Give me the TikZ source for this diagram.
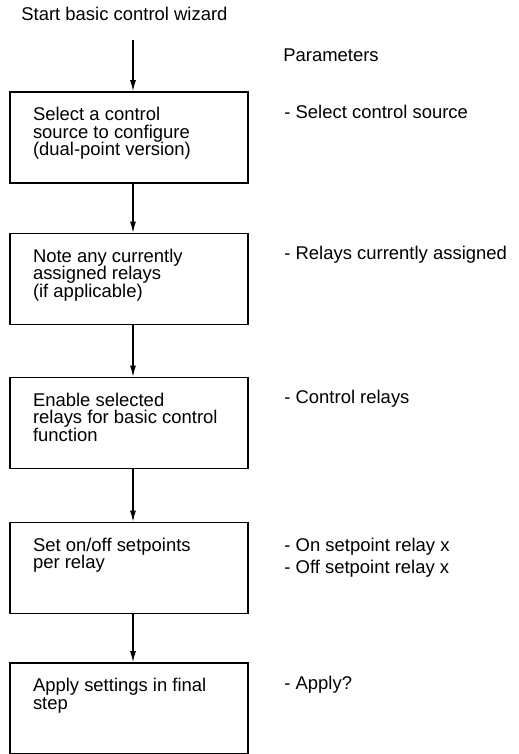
\documentclass[tikz,border=0pt]{standalone}
\usepackage{fontspec}
\setmainfont{Liberation Sans}
\usetikzlibrary{arrows.meta}

\newcommand{\steptext}[1]{\parbox[c][1.82cm][t]{3.84cm}{\raggedright\rule{0pt}{0.57cm}#1}}

\begin{document}
\begin{tikzpicture}[node distance=2.86cm, font=\fontsize{10.5}{10}\selectfont,
  >={Latex[length=0.22cm,width=0.12cm]},
  stepbox/.style={draw, rectangle, line width=1.1pt, minimum width=4.76cm, minimum height=1.82cm, inner xsep=0.46cm, inner ysep=0pt},
  param/.style={anchor=base west, inner sep=0pt, align=left}]
\useasboundingbox (0,0) rectangle (10.36,-15.08);

\node[param] (start) at (0.42,-0.42) {Start basic control wizard};
\node[param] (params) at (5.66,-1.24) {Parameters};

\node[stepbox] (select) at (2.58,-2.75) {\steptext{Select a control\\source to configure\\(dual-point version)}};
\node[stepbox, below of=select, node distance=2.83cm] (note) {\steptext{Note any currently\\assigned relays\\(if applicable)}};
\node[stepbox, below of=note, node distance=2.88cm] (enable) {\steptext{Enable selected\\relays for basic control\\function}};
\node[stepbox, below of=enable, node distance=2.9cm] (setpt) {\steptext{Set on/off setpoints\\per relay}};
\node[stepbox, below of=setpt, node distance=2.81cm] (apply) {\steptext{Apply settings in final\\step}};

\node[param] (psel) at ([xshift=5.5cm, yshift=-0.54cm]select.north west) {- Select control source};
\node[param] (pnote) at ([xshift=5.5cm, yshift=-0.54cm]note.north west) {- Relays currently assigned};
\node[param] (penable) at ([xshift=5.5cm, yshift=-0.54cm]enable.north west) {- Control relays};
\node[param] (psetpt) at ([xshift=5.5cm, yshift=-0.6cm]setpt.north west) {\parbox[t]{4.5cm}{\fontsize{10.5}{12.5}\selectfont - On setpoint relay x\\- Off setpoint relay x}};
\node[param] (papply) at ([xshift=5.5cm, yshift=-0.54cm]apply.north west) {- Apply?};

\coordinate (entry) at (2.66,-0.8);
\draw[->, line width=0.6pt] (entry) -- (entry |- select.north);
\draw[->, line width=0.6pt] ([xshift=0.08cm]select.south) -- ([xshift=0.08cm]note.north);
\draw[->, line width=0.6pt] ([xshift=0.08cm]note.south) -- ([xshift=0.08cm]enable.north);
\draw[->, line width=0.6pt] ([xshift=0.08cm]enable.south) -- ([xshift=0.08cm]setpt.north);
\draw[->, line width=0.6pt] ([xshift=0.08cm]setpt.south) -- ([xshift=0.08cm]apply.north);

\end{tikzpicture}
\end{document}
